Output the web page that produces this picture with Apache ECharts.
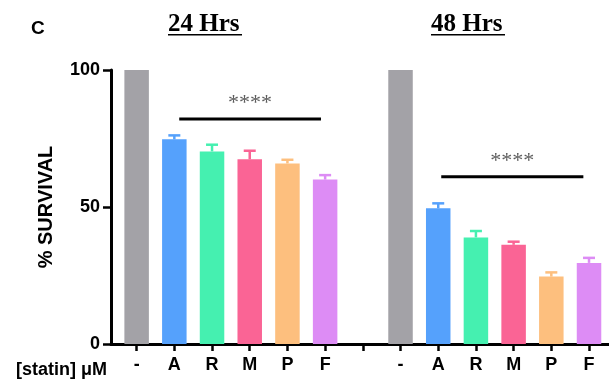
<!DOCTYPE html>
<html>
<head>
<meta charset="utf-8">
<script src="https://cdn.jsdelivr.net/npm/echarts@6/dist/echarts.min.js"></script>
<style>
html,body{margin:0;padding:0;background:#fff;}
#chart{width:609px;height:379px;}
</style>
</head>
<body>
<div id="chart"></div>
<script>
// ---- data ----
const categories = ['-', 'A', 'R', 'M', 'P', 'F', '', '-', 'A', 'R', 'M', 'P', 'F'];
const means24 = [100, 74.7, 70.3, 67.4, 65.9, 60.0];
const err24 = [0, 1.8, 2.8, 3.5, 1.7, 2.0];
const means48 = [100, 49.5, 38.9, 36.2, 24.6, 29.6];
const err48 = [0, 2.2, 2.7, 1.5, 1.9, 2.2];
const pos24 = [0, 1, 2, 3, 4, 5];
const pos48 = [7, 8, 9, 10, 11, 12];
const yTicks = [0, 50, 100];
const sigLines = [[1.13, 4.89, 82.1, 88.0], [8.08, 11.85, 61.0, 66.8]]; // from, to, line y, star y
const sigText = '****';
const colors = ['#a3a2a7', '#55a1fc', '#45f0b0', '#fa6495', '#fdbf7e', '#dd8cf5'];

// ---- build ----
const barData = [];
const errData = [];
pos24.forEach((p, i) => {
  barData.push({ value: [p, means24[i]], itemStyle: { color: colors[i] } });
  if (err24[i] > 0) errData.push([p, means24[i], err24[i], i]);
});
pos48.forEach((p, i) => {
  barData.push({ value: [p, means48[i]], itemStyle: { color: colors[i] } });
  if (err48[i] > 0) errData.push([p, means48[i], err48[i], i]);
});
const tickVals = categories.map((c, i) => i);

const sigSeries = [];
sigLines.forEach(s => {
  sigSeries.push({
    type: 'line', data: [[s[0], s[2]], [s[1], s[2]]], symbol: 'none',
    lineStyle: { color: '#000', width: 3 }, silent: true, z: 5
  });
  sigSeries.push({
    type: 'scatter', data: [[(s[0] + s[1]) / 2, s[3]]], symbolSize: 1,
    itemStyle: { color: 'transparent' }, silent: true, z: 5,
    label: { show: true, position: 'inside', formatter: sigText,
      fontFamily: 'Liberation Serif', fontSize: 22, color: '#333' }
  });
});

const chart = echarts.init(document.getElementById('chart'), null, { renderer: 'canvas' });
const sansBold = { fontFamily: 'Liberation Sans', fontWeight: 'bold', color: '#000' };
chart.setOption({
  animation: false,
  backgroundColor: '#fff',
  grid: { left: 111, right: 0, top: 70, bottom: 35 },
  xAxis: {
    type: 'value', min: -0.68, max: 12.53,
    axisLine: { show: true, onZero: false, lineStyle: { color: '#000', width: 3 } },
    axisTick: { show: true, customValues: tickVals, length: 7, lineStyle: { color: '#000', width: 2.5 } },
    axisLabel: { show: true, customValues: tickVals, margin: 12, fontSize: 18, ...sansBold,
      formatter: v => categories[Math.round(v)] },
    splitLine: { show: false }
  },
  yAxis: {
    type: 'value', min: 0, max: 100,
    name: '% SURVIVAL', nameLocation: 'middle', nameGap: 55,
    nameTextStyle: { fontSize: 20, ...sansBold },
    axisLine: { show: true, onZero: false, lineStyle: { color: '#000', width: 3 } },
    axisTick: { show: true, customValues: yTicks, length: 8, lineStyle: { color: '#000', width: 2.5 } },
    axisLabel: { show: true, customValues: yTicks, margin: 11, fontSize: 18, ...sansBold },
    splitLine: { show: false }
  },
  title: [
    { text: 'C', left: 26, top: 14, textStyle: { fontSize: 19, ...sansBold } },
    { text: '[statin] μM', left: 11, top: 356, textStyle: { fontSize: 18, ...sansBold } }
  ],
  graphic: [
    { type: 'text', left: 168, top: 12, style: { text: '24 Hrs', font: 'bold 25px "Liberation Serif"', fill: '#000' } },
    { type: 'rect', shape: { x: 168, y: 34, width: 74, height: 1.5 }, style: { fill: '#000' } },
    { type: 'text', left: 431, top: 12, style: { text: '48 Hrs', font: 'bold 25px "Liberation Serif"', fill: '#000' } },
    { type: 'rect', shape: { x: 431, y: 34, width: 74, height: 1.5 }, style: { fill: '#000' } }
  ],
  series: [
    { type: 'bar', data: barData, barWidth: 24.5, z: 2 },
    {
      type: 'custom', data: errData, z: 3,
      renderItem: (params, api) => {
        const x = api.value(0), y = api.value(1), e = api.value(2);
        const c = colors[api.value(3)];
        const b = api.coord([x, y]);
        const t = api.coord([x, y + e]);
        return { type: 'group', children: [
          { type: 'line', shape: { x1: b[0], y1: b[1], x2: t[0], y2: t[1] + 1 }, style: { stroke: c, lineWidth: 2.5 } },
          { type: 'line', shape: { x1: t[0] - 6, y1: t[1] + 1, x2: t[0] + 6, y2: t[1] + 1 }, style: { stroke: c, lineWidth: 2.5 } }
        ] };
      }
    },
    ...sigSeries
  ]
});
</script>
</body>
</html>
